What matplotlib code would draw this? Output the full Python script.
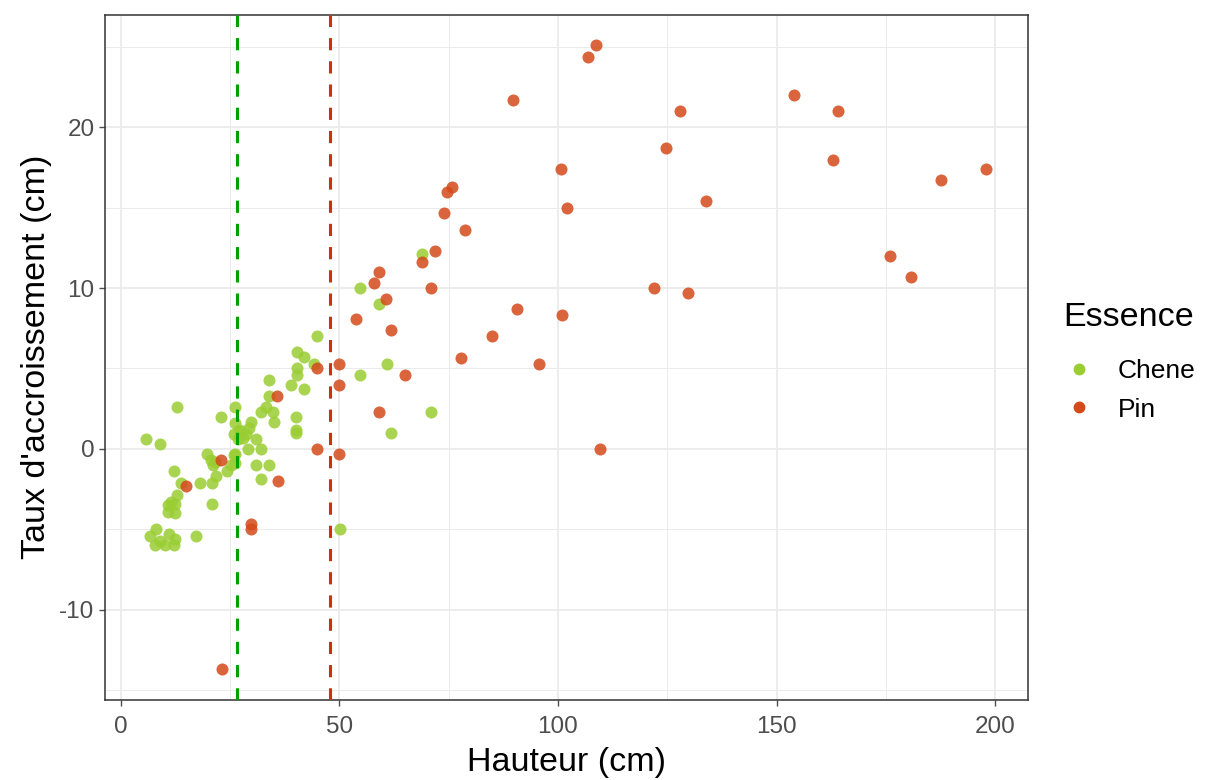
import numpy as np
import matplotlib
matplotlib.use("Agg")
import matplotlib.pyplot as plt
from matplotlib.lines import Line2D

plt.rcParams["font.family"] = ["Liberation Sans", "DejaVu Sans"]
plt.rcParams["axes.unicode_minus"] = False

# Chene (oak): hauteur, taux d'accroissement
chene_x = [5.8, 9.0, 12.9, 6.7, 8.0, 7.8, 9.0, 10.1, 11.1, 12.4, 12.2, 17.1,
           10.9, 12.4, 10.9, 11.6, 12.4, 12.9, 12.1, 13.8, 18.1, 20.9, 21.9, 20.9,
           19.8, 20.6, 21.5, 21.0, 24.2, 25.3, 26.1, 26.1, 23.0, 26.1, 26.1, 25.8,
           26.0, 26.8, 27.5, 28.0, 27.0, 28.6, 29.4, 29.0, 29.9, 31.0, 31.0, 32.0,
           32.0, 33.8, 32.0, 33.3, 34.8, 35.0, 33.9, 33.9, 39.0, 40.2, 40.2, 40.2,
           40.0, 40.0, 40.0, 41.9, 44.1, 41.9, 45.0, 50.1, 54.8, 54.8, 59.0, 60.8,
           61.8, 68.9, 71.0]
chene_y = [0.6, 0.3, 2.6, -5.4, -5.0, -6.0, -5.7, -6.0, -5.3, -5.6, -6.0, -5.4,
           -3.9, -4.0, -3.5, -3.3, -3.4, -2.9, -1.4, -2.1, -2.1, -2.1, -1.7, -3.4,
           -0.3, -0.7, -0.8, -1.0, -1.4, -1.0, -0.9, -0.3, 2.0, 2.6, 1.6, -0.4,
           0.9, 0.6, 1.1, 0.7, 1.2, 0.9, 1.3, 0.0, 1.7, 0.6, -1.0, 0.0,
           -1.9, -1.0, 2.3, 2.6, 2.3, 1.7, 3.3, 4.3, 4.0, 6.0, 5.0, 4.6,
           2.0, 1.2, 1.0, 5.7, 5.3, 3.7, 7.0, -5.0, 10.0, 4.6, 9.0, 5.3,
           1.0, 12.1, 2.3]

# Pin (pine)
pin_x = [108.7, 106.8, 89.8, 154.0, 164.0, 127.9, 124.7, 162.8, 100.7, 198.0,
         187.7, 75.7, 74.7, 133.9, 102.1, 74.0, 78.8, 71.9, 68.9, 175.9, 180.7,
         59.0, 58.0, 71.0, 122.0, 129.7, 60.7, 90.7, 101.0, 53.8, 61.8, 84.9,
         65.0, 77.9, 95.7, 50.0, 50.0, 45.0, 35.8, 59.0, 45.0, 50.0, 23.0, 36.0,
         14.9, 29.9, 29.9, 23.2, 109.6]
pin_y = [25.1, 24.4, 21.7, 22.0, 21.0, 21.0, 18.7, 18.0, 17.4, 17.4,
         16.7, 16.3, 16.0, 15.4, 15.0, 14.7, 13.6, 12.3, 11.6, 12.0, 10.7,
         11.0, 10.3, 10.0, 10.0, 9.7, 9.35, 8.7, 8.3, 8.05, 7.4, 7.0,
         4.6, 5.65, 5.3, 5.3, 4.0, 5.0, 3.3, 2.3, 0.0, -0.3, -0.7, -2.0,
         -2.3, -4.7, -5.0, -13.7, 0.0]

# mean heights per species (vertical dashed lines)
mean_chene = 26.6
mean_pin = 47.8

col_chene = "#9ACD32"
col_pin = "#D44A1A"

fig = plt.figure(figsize=(12.07, 7.8), dpi=100)
ax = fig.add_axes([0.087, 0.103, 0.765, 0.878])

ax.scatter(chene_x, chene_y, s=75, color=col_chene, alpha=0.85, linewidths=0, zorder=3)
ax.scatter(pin_x, pin_y, s=75, color=col_pin, alpha=0.85, linewidths=0, zorder=3)
ax.axvline(mean_chene, color="#00A000", lw=2.2, ls=(0, (4, 3.6)), zorder=4)
ax.axvline(mean_pin, color="#CC3300", lw=2.2, ls=(0, (4, 3.6)), zorder=4)

ax.set_xlim(-3.6, 207.6)
ax.set_ylim(-15.6, 27.0)
ax.set_xticks([0, 50, 100, 150, 200])
ax.set_yticks([-10, 0, 10, 20])
ax.set_xticks([25, 75, 125, 175], minor=True)
ax.set_yticks([-15, -5, 5, 15, 25], minor=True)
ax.grid(True, which="major", color="#EBEBEB", lw=1.3, zorder=0)
ax.grid(True, which="minor", color="#EBEBEB", lw=0.7, zorder=0)
ax.set_axisbelow(True)
ax.tick_params(which="major", labelsize=17.5, colors="#4D4D4D", length=4, width=1)
ax.tick_params(axis="x", which="major", pad=8)
ax.tick_params(which="minor", length=0)
for s in ax.spines.values():
    s.set_color("#333333")
    s.set_linewidth(1.1)

ax.set_xlabel("Hauteur (cm)", fontsize=24.5, labelpad=6)
ax.set_ylabel("Taux d'accroissement (cm)", fontsize=24.5, labelpad=5)

# legend: title drawn separately to get the ggplot spacing
fig.text(0.881, 1 - 318 / 780, "Essence", fontsize=24.5, ha="left", va="center")
handles = [Line2D([], [], marker="o", ls="", ms=7.5, color=col_chene, label="Chene"),
           Line2D([], [], marker="o", ls="", ms=7.5, color=col_pin, label="Pin")]
leg = fig.legend(handles=handles, loc="upper left",
                 bbox_to_anchor=(0.8725, 0.553), frameon=False, fontsize=19,
                 handlelength=1.2, handletextpad=0.85, labelspacing=0.55,
                 borderaxespad=0)

fig.savefig("out.png", dpi=100)
